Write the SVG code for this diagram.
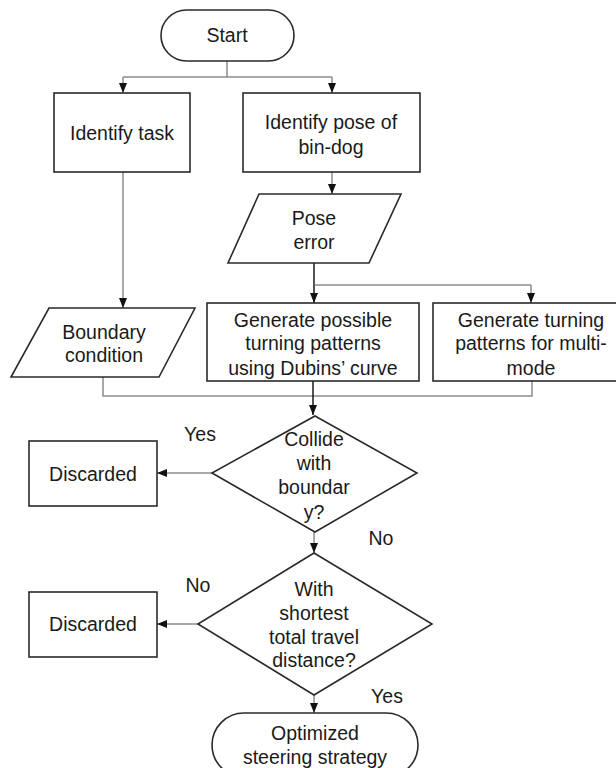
<svg xmlns="http://www.w3.org/2000/svg" width="616" height="768" viewBox="0 0 616 768">
<style>
.n{fill:#fff;stroke:#2a2a2a;stroke-width:1.6}
.c{fill:none;stroke:#8c8c8c;stroke-width:1.5}
.k{fill:none;stroke:#1a1a1a;stroke-width:1.5}
text{font-family:"Liberation Sans",Arial,sans-serif;font-size:19.5px;fill:#1a1a1a;text-anchor:middle}
</style>
<defs>
<marker id="a" viewBox="0 0 10 10" refX="10" refY="5" markerWidth="10" markerHeight="10" markerUnits="userSpaceOnUse" orient="auto">
<path d="M0,1 L10,5 L0,9 Z" fill="#111"/>
</marker>
</defs>
<rect width="616" height="768" fill="#fff"/>
<g id="connectors">
<path class="c" d="M227,61 V77 M123,77 H332"/>
<path class="c" d="M123,77 V93" marker-end="url(#a)"/>
<path class="c" d="M332,77 V93" marker-end="url(#a)"/>
<path class="c" d="M332,172 V194" marker-end="url(#a)"/>
<path class="c" d="M123,172 V308" marker-end="url(#a)"/>
<path class="k" d="M314,263 V285"/>
<path class="c" d="M314,285 H531"/>
<path class="k" d="M314,285 V303" marker-end="url(#a)"/>
<path class="c" d="M531,285 V303" marker-end="url(#a)"/>
<path class="c" d="M103,377 V396 H532 V381"/>
<path class="k" d="M313,381 V415" marker-end="url(#a)"/>
<path class="c" d="M212,473 H157" marker-end="url(#a)"/>
<path class="c" d="M314,532 V553" marker-end="url(#a)"/>
<path class="c" d="M198,624 H157" marker-end="url(#a)"/>
<path class="c" d="M314,695 V713" marker-end="url(#a)"/>
<text x="200" y="441">Yes</text>
<text x="381" y="545">No</text>
<text x="198" y="592">No</text>
<text x="387" y="703">Yes</text>
</g>
<g id="start">
<rect class="n" x="161" y="10" width="133" height="51" rx="25.5"/>
<text x="227" y="42">Start</text>
</g>
<g id="identify-task">
<rect class="n" x="54" y="93" width="136" height="79"/>
<text x="122" y="140">Identify task</text>
</g>
<g id="identify-pose">
<rect class="n" x="243" y="93" width="177" height="79"/>
<text x="331" y="129">Identify pose of</text>
<text x="331" y="154">bin-dog</text>
</g>
<g id="pose-error">
<polygon class="n" points="259,194 401,194 369,263 228,263"/>
<text x="314" y="225">Pose</text>
<text x="314" y="249">error</text>
</g>
<g id="boundary">
<polygon class="n" points="49,308 195,308 159,377 11,377"/>
<text x="104" y="339">Boundary</text>
<text x="104" y="362">condition</text>
</g>
<g id="dubins">
<rect class="n" x="207" y="303" width="212" height="78"/>
<text x="313" y="327">Generate possible</text>
<text x="313" y="350">turning patterns</text>
<text x="313" y="375">using Dubins’ curve</text>
</g>
<g id="multimode">
<rect class="n" x="433" y="303" width="196" height="78"/>
<text x="531" y="327">Generate turning</text>
<text x="531" y="350">patterns for multi-</text>
<text x="531" y="375">mode</text>
</g>
<g id="collide">
<polygon class="n" points="315,416 417,473 315,532 212,473"/>
<text x="314" y="446">Collide</text>
<text x="314" y="470">with</text>
<text x="314" y="494">boundar</text>
<text x="314" y="519">y?</text>
</g>
<g id="discarded-1">
<rect class="n" x="29" y="441" width="128" height="65"/>
<text x="93" y="481">Discarded</text>
</g>
<g id="shortest">
<polygon class="n" points="314,553 432,624 314,695 198,624"/>
<text x="314" y="596">With</text>
<text x="314" y="620">shortest</text>
<text x="314" y="644">total travel</text>
<text x="314" y="667">distance?</text>
</g>
<g id="discarded-2">
<rect class="n" x="29" y="592" width="128" height="65"/>
<text x="93" y="631">Discarded</text>
</g>
<g id="optimized">
<rect class="n" x="212" y="713" width="206" height="64" rx="32"/>
<text x="315" y="740">Optimized</text>
<text x="315" y="764">steering strategy</text>
</g>
</svg>
